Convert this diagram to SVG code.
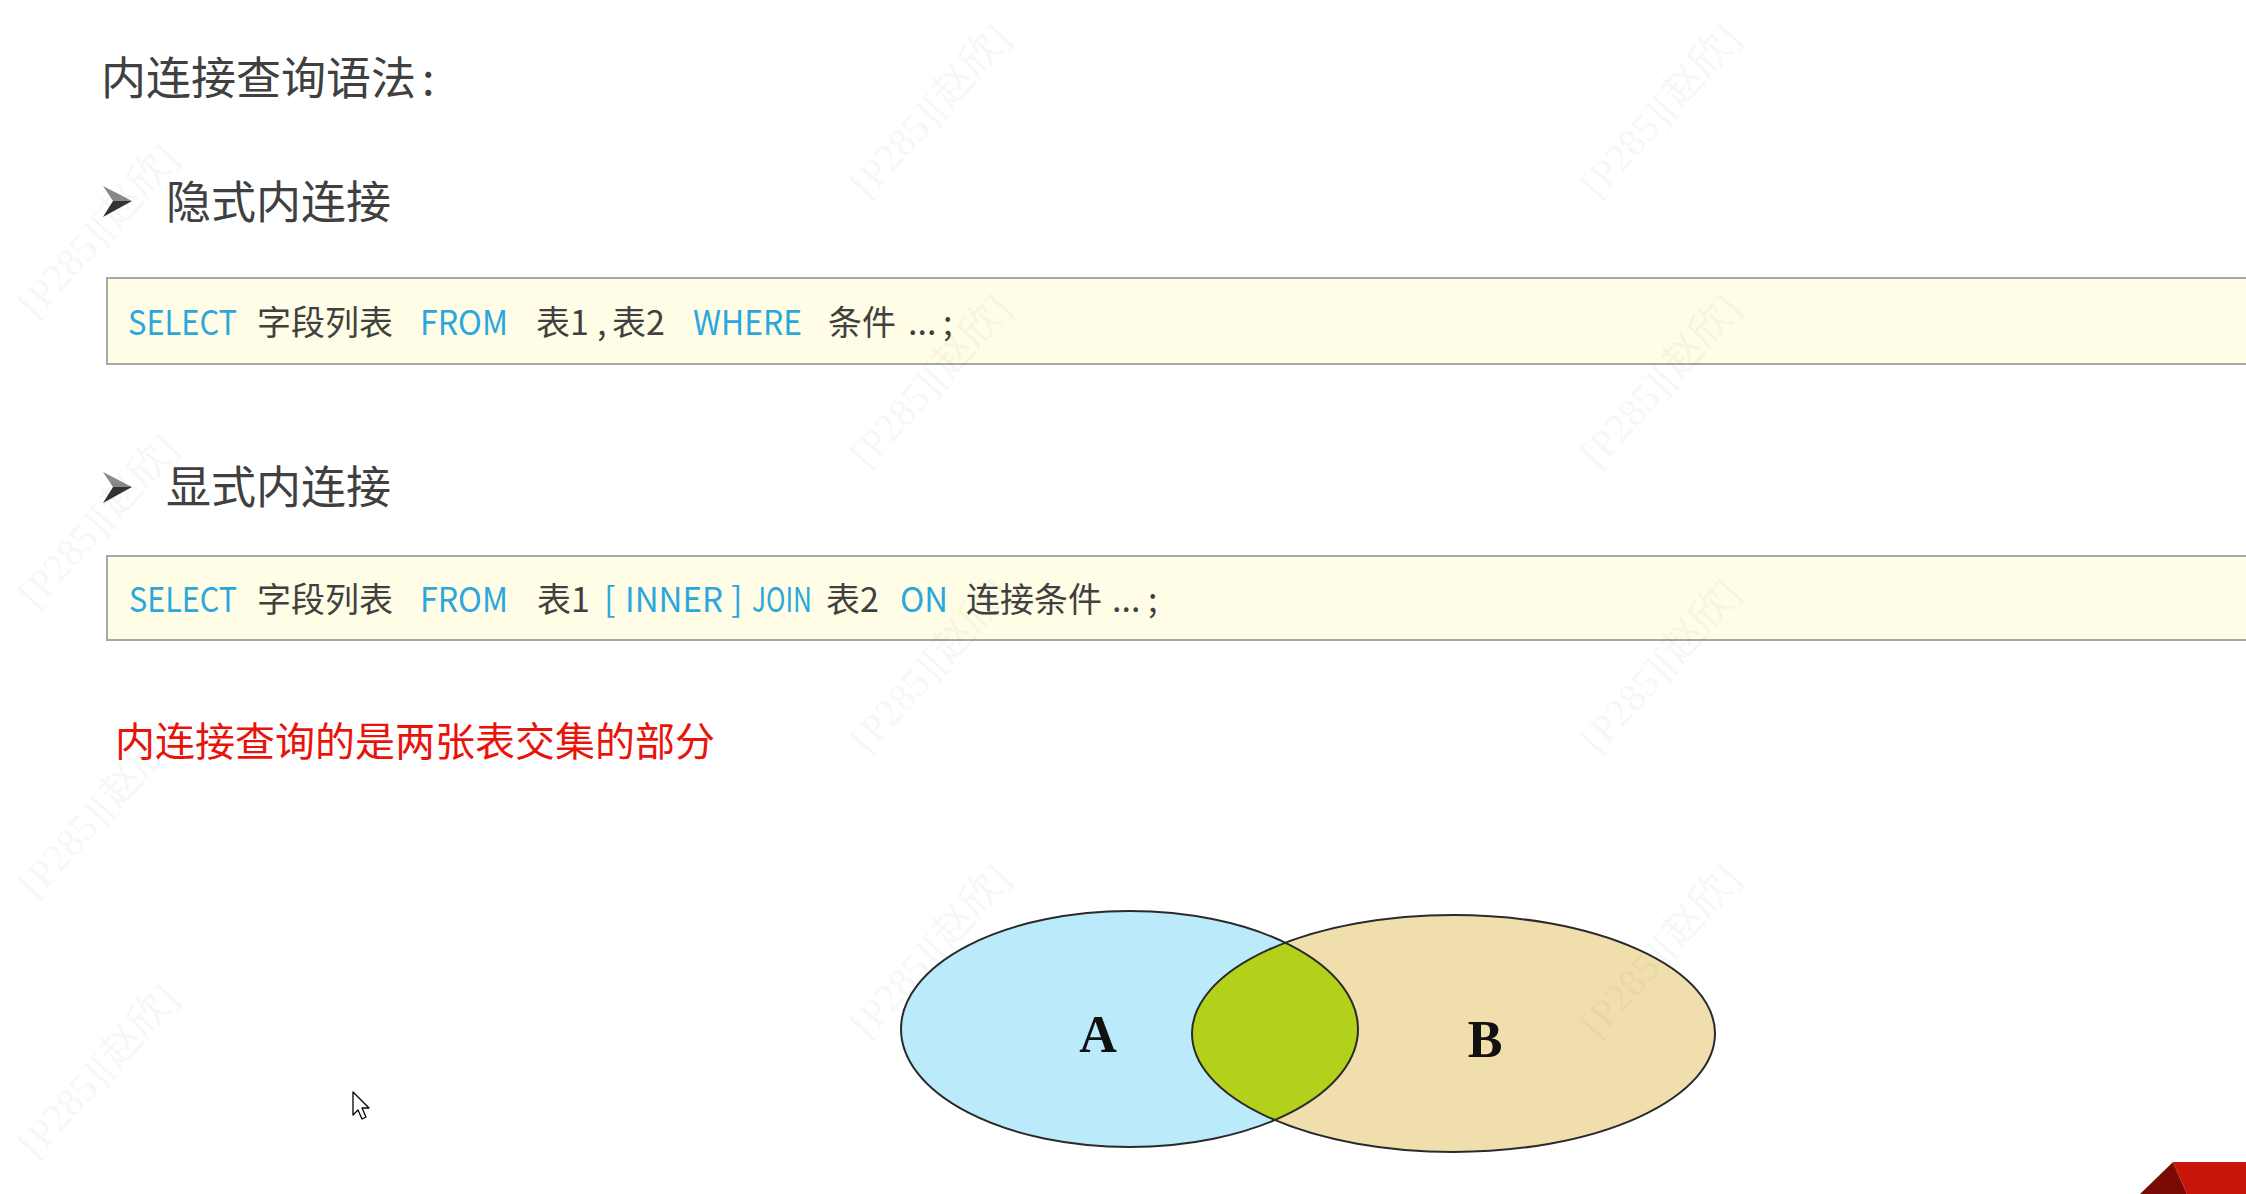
<svg xmlns="http://www.w3.org/2000/svg" width="2246" height="1194" viewBox="0 0 2246 1194">
<style>
  .cjk{font-family:"Noto Sans CJK SC","Noto Sans",sans-serif}
  .head{font-size:45px;fill:#404040}
  .code{font-size:34px}
  .kw{fill:#2aa7de}
  .tx{fill:#404040}
  .red{font-size:40px;fill:#e8140c}
  .box{fill:#fffde5;stroke:#a8a8a8;stroke-width:2}
  .wm{font-family:"Liberation Serif","Noto Sans CJK SC",serif;font-size:40px;fill:#000;fill-opacity:0.055}
  .lbl{font-family:"Liberation Serif",serif;font-weight:bold;font-size:52px;fill:#111;text-anchor:middle}
  .ven{stroke:#2a2a2a;stroke-width:2;fill:none}
</style>
<defs>
  <clipPath id="clipA"><ellipse cx="1129.5" cy="1029" rx="228.5" ry="118"/></clipPath>
</defs>
<rect width="2246" height="1194" fill="#ffffff"/>

<g id="title">
  <text class="cjk head" x="101" y="95">内连接查询语法<tspan x="422">:</tspan></text>
</g>

<g id="bullet-implicit">
  <polygon points="103,186 132,201 113,201" fill="#8a8a8a"/>
  <polygon points="113,201 132,201 103,217" fill="#333333"/>
  <text class="cjk head" x="166" y="219">隐式内连接</text>
</g>

<g id="code-implicit">
  <rect class="box" x="107" y="278" width="2200" height="86"/>
  <text class="cjk code" y="335">
    <tspan class="kw" x="128" textLength="109" lengthAdjust="spacingAndGlyphs">SELECT</tspan>
    <tspan class="tx" x="257">字段列表</tspan>
    <tspan class="kw" x="420" textLength="88" lengthAdjust="spacingAndGlyphs">FROM</tspan>
    <tspan class="tx" x="536">表1</tspan>
    <tspan class="tx" x="597">,</tspan>
    <tspan class="tx" x="612">表2</tspan>
    <tspan class="kw" x="693" textLength="109" lengthAdjust="spacingAndGlyphs">WHERE</tspan>
    <tspan class="tx" x="828">条件</tspan>
    <tspan class="tx" x="908">...</tspan>
    <tspan class="tx" x="943">;</tspan>
  </text>
</g>

<g id="bullet-explicit">
  <polygon points="103,472 132,487 113,487" fill="#8a8a8a"/>
  <polygon points="113,487 132,487 103,503" fill="#333333"/>
  <text class="cjk head" x="166" y="504">显式内连接</text>
</g>

<g id="code-explicit">
  <rect class="box" x="107" y="556" width="2200" height="84"/>
  <text class="cjk code" y="612">
    <tspan class="kw" x="129" textLength="108" lengthAdjust="spacingAndGlyphs">SELECT</tspan>
    <tspan class="tx" x="257">字段列表</tspan>
    <tspan class="kw" x="420" textLength="88" lengthAdjust="spacingAndGlyphs">FROM</tspan>
    <tspan class="tx" x="537">表1</tspan>
    <tspan class="kw" x="604">[</tspan>
    <tspan class="kw" x="625" textLength="98" lengthAdjust="spacingAndGlyphs">INNER</tspan>
    <tspan class="kw" x="731">]</tspan>
    <tspan class="kw" x="752" textLength="60" lengthAdjust="spacingAndGlyphs">JOIN</tspan>
    <tspan class="tx" x="826">表2</tspan>
    <tspan class="kw" x="900" textLength="48" lengthAdjust="spacingAndGlyphs">ON</tspan>
    <tspan class="tx" x="966">连接条件</tspan>
    <tspan class="tx" x="1112">...</tspan>
    <tspan class="tx" x="1148">;</tspan>
  </text>
</g>

<g id="note">
  <text class="cjk red" x="115" y="756">内连接查询的是两张表交集的部分</text>
</g>

<g id="venn">
  <g id="set-a">
    <ellipse cx="1129.5" cy="1029" rx="228.5" ry="118" fill="#bbeafb"/>
  </g>
  <g id="set-b">
    <ellipse cx="1453.5" cy="1033.5" rx="261.5" ry="118.5" fill="#f0dfad"/>
  </g>
  <g id="intersection">
    <ellipse cx="1453.5" cy="1033.5" rx="261.5" ry="118.5" fill="#b3d11a" clip-path="url(#clipA)"/>
  </g>
  <ellipse class="ven" cx="1129.5" cy="1029" rx="228.5" ry="118"/>
  <ellipse class="ven" cx="1453.5" cy="1033.5" rx="261.5" ry="118.5"/>
  <text class="lbl" x="1098" y="1052">A</text>
  <text class="lbl" x="1485" y="1057">B</text>
</g>

<g id="connectors"></g>

<g id="cursor">
  <polygon points="353,1092 353,1115 358,1110 362,1119 366,1117 362,1108 369,1108" fill="#ffffff" stroke="#000000" stroke-width="1.3" stroke-linejoin="round"/>
</g>

<g id="corner">
  <polygon points="2140,1194 2173,1162 2187,1194" fill="#7a0b02"/>
  <polygon points="2173,1162 2246,1162 2246,1194 2187,1194" fill="#c8150a"/>
</g>

<g id="watermarks">
  <text class="wm" transform="translate(36,320) rotate(-48)">[P285][赵欣]</text>
  <text class="wm" transform="translate(36,610) rotate(-48)">[P285][赵欣]</text>
  <text class="wm" transform="translate(36,900) rotate(-48)">[P285][赵欣]</text>
  <text class="wm" transform="translate(36,1160) rotate(-48)">[P285][赵欣]</text>
  <text class="wm" transform="translate(868,200) rotate(-48)">[P285][赵欣]</text>
  <text class="wm" transform="translate(868,470) rotate(-48)">[P285][赵欣]</text>
  <text class="wm" transform="translate(868,755) rotate(-48)">[P285][赵欣]</text>
  <text class="wm" transform="translate(868,1040) rotate(-48)">[P285][赵欣]</text>
  <text class="wm" transform="translate(1598,200) rotate(-48)">[P285][赵欣]</text>
  <text class="wm" transform="translate(1598,470) rotate(-48)">[P285][赵欣]</text>
  <text class="wm" transform="translate(1598,755) rotate(-48)">[P285][赵欣]</text>
  <text class="wm" transform="translate(1598,1040) rotate(-48)">[P285][赵欣]</text>
</g>
</svg>
